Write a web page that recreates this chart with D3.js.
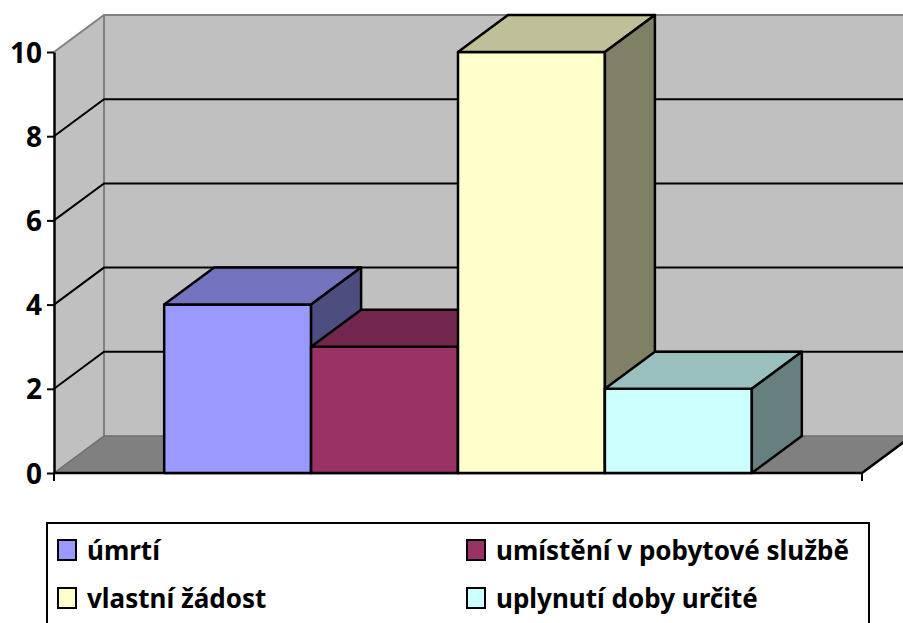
<!DOCTYPE html>
<html lang="cs">
<head>
<meta charset="utf-8">
<title>Důvody ukončení služby</title>
<script type="text/javascript" src="https://cdnjs.cloudflare.com/ajax/libs/d3/7.8.5/d3.min.js"></script>
<style>
body { margin: 0; background: #fff; }
svg { display: block; font-family: "Noto Sans", sans-serif; font-weight: bold; }
.axis text { font-family: "Noto Sans", sans-serif; font-size: 28px; font-weight: bold; fill: #000; }
.legend text { font-family: "Noto Sans", sans-serif; font-size: 26px; font-weight: bold; fill: #000; }
</style>
</head>
<body>
<div id="chart"></div>
<script type="text/javascript">

// data
var seriesNames = ["úmrtí", "umístění v pobytové službě", "vlastní žádost", "uplynutí doby určité"];
var seriesValues = [4, 3, 10, 2];
var seriesColors = ["#9999ff", "#993366", "#ffffcc", "#ccffff"];
var yTicks = [0, 2, 4, 6, 8, 10];

var width = 903, height = 623;
var front = {left: 54, right: 862, top: 52, bottom: 473};
var depth = {dx: 50, dy: -37};

var svg = d3.select("#chart").append("svg")
    .attr("width", width)
    .attr("height", height);

var yScale = d3.scaleLinear()
    .domain([0, 10])
    .range([front.bottom, front.top]);

var xScale = d3.scaleBand()
    .domain(seriesNames)
    .range([front.left, front.right])
    .paddingInner(0)
    .paddingOuter(0.75);

function pts(list) {
    return list.map(function(p) { return p.join(","); }).join(" ");
}

var x0 = front.left, x1 = front.right;
var yb = yScale(0), yt = yScale(10);
var dx = depth.dx, dy = depth.dy;

// walls
svg.append("polygon")
    .attr("points", pts([[x0 + dx, yt + dy], [x1 + dx, yt + dy], [x1 + dx, yb + dy], [x0 + dx, yb + dy]]))
    .attr("fill", "#c0c0c0");
svg.append("polygon")
    .attr("points", pts([[x0, yt], [x0 + dx, yt + dy], [x0 + dx, yb + dy], [x0, yb]]))
    .attr("fill", "#c0c0c0");
svg.append("polygon")
    .attr("points", pts([[x0, yb], [x0 + dx, yb + dy], [x1 + dx, yb + dy], [x1, yb]]))
    .attr("fill", "#808080");

// wall edges
svg.append("polyline")
    .attr("points", pts([[x0, yt], [x0 + dx, yt + dy], [x1 + dx, yt + dy]]))
    .attr("fill", "none").attr("stroke", "#808080").attr("stroke-width", 2);
svg.append("line")
    .attr("x1", x0 + dx).attr("y1", yt + dy).attr("x2", x0 + dx).attr("y2", yb + dy)
    .attr("stroke", "#808080").attr("stroke-width", 2);
svg.append("polyline")
    .attr("points", pts([[x0, yb], [x0 + dx, yb + dy], [x1 + dx, yb + dy]]))
    .attr("fill", "none").attr("stroke", "#6e6e6e").attr("stroke-width", 1.5);

// gridlines
var grid = svg.append("g");
yTicks.filter(function(t) { return t > 0 && t < 10; }).forEach(function(t) {
    var y = yScale(t);
    grid.append("polyline")
        .attr("points", pts([[x0, y], [x0 + dx, y + dy], [x1 + dx, y + dy]]))
        .attr("fill", "none")
        .attr("stroke", "#000")
        .attr("stroke-width", 2);
});

// floor front / right edges
svg.append("polyline")
    .attr("points", pts([[x0, yb], [x1, yb], [x1 + dx, yb + dy]]))
    .attr("fill", "none").attr("stroke", "#000").attr("stroke-width", 2.5);
svg.append("line")
    .attr("x1", x1).attr("y1", yb).attr("x2", x1).attr("y2", yb + 8)
    .attr("stroke", "#000").attr("stroke-width", 2);
svg.append("line")
    .attr("x1", x0).attr("y1", yb).attr("x2", x0).attr("y2", yb + 8)
    .attr("stroke", "#000").attr("stroke-width", 2);

// bars (left to right so each one hides the previous side face)
var bars = svg.append("g");
seriesNames.forEach(function(name, i) {
    var c = d3.rgb(seriesColors[i]);
    var top = d3.rgb(c.r * 0.75, c.g * 0.75, c.b * 0.75);
    var side = d3.rgb(c.r * 0.5, c.g * 0.5, c.b * 0.5);
    var bx0 = xScale(name), bx1 = bx0 + xScale.bandwidth();
    var by = yScale(seriesValues[i]);
    var g = bars.append("g")
        .attr("stroke", "#000")
        .attr("stroke-width", 2.5)
        .attr("stroke-linejoin", "round");
    g.append("polygon")
        .attr("points", pts([[bx0, by], [bx1, by], [bx1, yb], [bx0, yb]]))
        .attr("fill", c.formatHex());
    g.append("polygon")
        .attr("points", pts([[bx0, by], [bx0 + dx, by + dy], [bx1 + dx, by + dy], [bx1, by]]))
        .attr("fill", top.formatHex());
    g.append("polygon")
        .attr("points", pts([[bx1, by], [bx1 + dx, by + dy], [bx1 + dx, yb + dy], [bx1, yb]]))
        .attr("fill", side.formatHex());
});

// value axis
var axis = svg.append("g")
    .attr("class", "axis")
    .attr("transform", "translate(" + x0 + ",0)")
    .call(d3.axisLeft(yScale).tickValues(yTicks).tickSize(7).tickSizeOuter(0).tickPadding(5));
axis.select(".domain").attr("stroke", "#000").attr("stroke-width", 2.5);
axis.selectAll(".tick line").attr("stroke", "#000").attr("stroke-width", 2);
axis.selectAll(".tick text").attr("dy", "0.36em");

// legend
var legend = svg.append("g").attr("class", "legend");
legend.append("rect")
    .attr("x", 47).attr("y", 523)
    .attr("width", 822).attr("height", 130)
    .attr("fill", "#fff")
    .attr("stroke", "#000")
    .attr("stroke-width", 2);

var colX = [58, 467], rowY = [560, 608];
seriesNames.forEach(function(name, i) {
    var cx = colX[i % 2], cy = rowY[Math.floor(i / 2)];
    legend.append("rect")
        .attr("x", cx).attr("y", cy - 20)
        .attr("width", 18).attr("height", 20)
        .attr("fill", seriesColors[i])
        .attr("stroke", "#000")
        .attr("stroke-width", 2);
    legend.append("text")
        .attr("x", cx + 29).attr("y", cy)
        .text(name);
});

</script>
</body>
</html>
